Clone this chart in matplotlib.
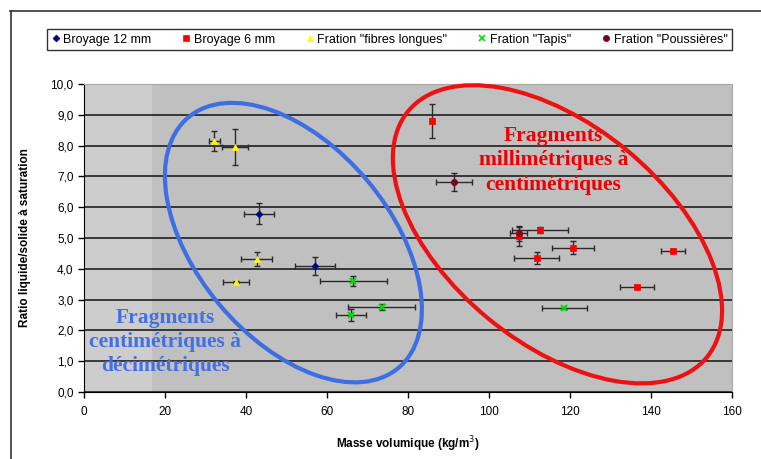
import matplotlib
matplotlib.use('Agg')
import matplotlib.pyplot as plt
from matplotlib.patches import Ellipse
from matplotlib.lines import Line2D
from matplotlib.transforms import ScaledTranslation
from matplotlib.ticker import FuncFormatter

plt.rcParams['font.family'] = ['Liberation Sans', 'DejaVu Sans']

# --- données ---
b12_x = [43.1, 57.1]
b12_y = [5.79, 4.09]
b12_xerr = [3.7, 4.9]
b12_yerr = [0.34, 0.29]

b6_x = [85.9, 107.5, 112.6, 120.7, 111.8, 145.5, 136.6]
b6_y = [8.80, 5.05, 5.26, 4.69, 4.36, 4.59, 3.42]
b6_xerr = [0.4, 0.5, 7.0, 5.2, 5.6, 3.0, 4.2]
b6_yerr = [0.55, 0.30, 0.10, 0.20, 0.20, 0.05, 0.03]

fl_x = [32.2, 37.3, 42.6, 37.6]
fl_y = [8.15, 7.96, 4.31, 3.58]
fl_xerr = [1.3, 3.3, 3.9, 3.2]
fl_yerr = [0.32, 0.58, 0.23, 0.03]

tap_x = [66.5, 65.9, 73.5, 118.6]
tap_y = [3.61, 2.50, 2.76, 2.72]
tap_xerr = [8.3, 3.7, 8.3, 5.5]
tap_yerr = [0.17, 0.20, 0.10, 0.02]

pou_x = [91.4, 107.3]
pou_y = [6.83, 5.15]
pou_xerr = [4.4, 2.2]
pou_yerr = [0.29, 0.25]

series = [
    ('Broyage 12 mm', b12_x, b12_y, b12_xerr, b12_yerr, 'D', '#000080', 3.5),
    ('Broyage 6 mm', b6_x, b6_y, b6_xerr, b6_yerr, 's', '#ff0000', 4.5),
    ('Fration "fibres longues"', fl_x, fl_y, fl_xerr, fl_yerr, '^', '#ffff00', 5),
    ('Fration "Tapis"', tap_x, tap_y, tap_xerr, tap_yerr, 'x', '#00dd00', 4.5),
    ('Fration "Poussières"', pou_x, pou_y, pou_xerr, pou_yerr, 'o', '#800020', 4.5),
]

fig = plt.figure(figsize=(7.61, 4.59), dpi=100)
ax = fig.add_axes([0.1104, 0.1460, 0.8515, 0.6710])
ax.set_facecolor('#c0c0c0')
ax.axvspan(0, 16.5, color='#cdcdcd', zorder=0)

ax.set_xlim(0, 160)
ax.set_ylim(0, 10)
ax.set_xticks(range(0, 161, 20))
ax.set_yticks(range(0, 11))
ax.yaxis.set_major_formatter(FuncFormatter(lambda v, p: f'{v:.1f}'.replace('.', ',')))
ax.tick_params(axis='both', direction='out', length=4, width=1, labelsize=8.5, colors='black')
ax.tick_params(axis='x', pad=6)
ax.yaxis.grid(True, color='#111111', linewidth=1.1, zorder=1)
ax.set_axisbelow(True)
for s in ['top', 'right']:
    ax.spines[s].set_color('#a8a8a8')
for s in ['left', 'bottom']:
    ax.spines[s].set_color('black')

handles = []
for label, x, y, xe, ye, m, c, ms in series:
    ax.errorbar(x, y, xerr=xe, yerr=ye, fmt='none', ecolor='#2a2a2a',
                elinewidth=1, capsize=2.5, capthick=1, zorder=4)
    ax.plot(x, y, linestyle='none', marker=m, color=c, markersize=ms,
            markeredgewidth=1.5 if m == 'x' else 0.5,
            markeredgecolor=c, zorder=5)
    handles.append(Line2D([], [], linestyle='none', marker=m, color=c,
                          markersize=ms, markeredgewidth=1.2 if m == 'x' else 0.5,
                          label=label))

# ellipses (taille en pouces, centre en données)
def ellipse(cx, cy, w, h, ang, color):
    tr = fig.dpi_scale_trans + ScaledTranslation(cx, cy, ax.transData)
    e = Ellipse((0, 0), w, h, angle=ang, transform=tr, fill=False,
                edgecolor=color, linewidth=3, zorder=3, clip_on=False)
    ax.add_patch(e)

ellipse(51.7, 4.85, 3.27, 1.93, -50, '#3d6fe3')
ellipse(116.9, 5.12, 3.87, 2.18, -39.5, '#ee1111')

ax.text(20.0, 1.63, 'Fragments\ncentimétriques à\ndécimétriques', ha='center', va='center',
        family='Liberation Serif', fontweight='bold', fontsize=15.5, color='#4470e6',
        linespacing=1.25, zorder=6)
ax.text(115.9, 7.53, 'Fragments\nmillimétriques à\ncentimétriques', ha='center', va='center',
        family='Liberation Serif', fontweight='bold', fontsize=15.5, color='#ee0000',
        linespacing=1.3, zorder=6)

ax.set_xlabel('Masse volumique (kg/m$^3$)', fontsize=8.5, fontweight='bold', labelpad=12)
ax.set_ylabel('Ratio liquide/solide à saturation', fontsize=8.5, fontweight='bold', labelpad=14)

leg = fig.legend(handles=handles, loc='center', bbox_to_anchor=(0.512, 0.9135), ncol=5,
                 fontsize=9, frameon=True, fancybox=False, edgecolor='black',
                 handlelength=0.6, handletextpad=0.3, columnspacing=2.5,
                 borderpad=0.35, borderaxespad=0)
leg.get_frame().set_linewidth(1)

# cadre extérieur
fig.add_artist(Line2D([10 / 761, 1], [1 - 11 / 459, 1 - 11 / 459], color='#333333', lw=1.2,
                      transform=fig.transFigure))
fig.add_artist(Line2D([11 / 761, 11 / 761], [0, 1 - 11 / 459], color='#333333', lw=1.2,
                      transform=fig.transFigure))

fig.savefig('out.png', dpi=100)
